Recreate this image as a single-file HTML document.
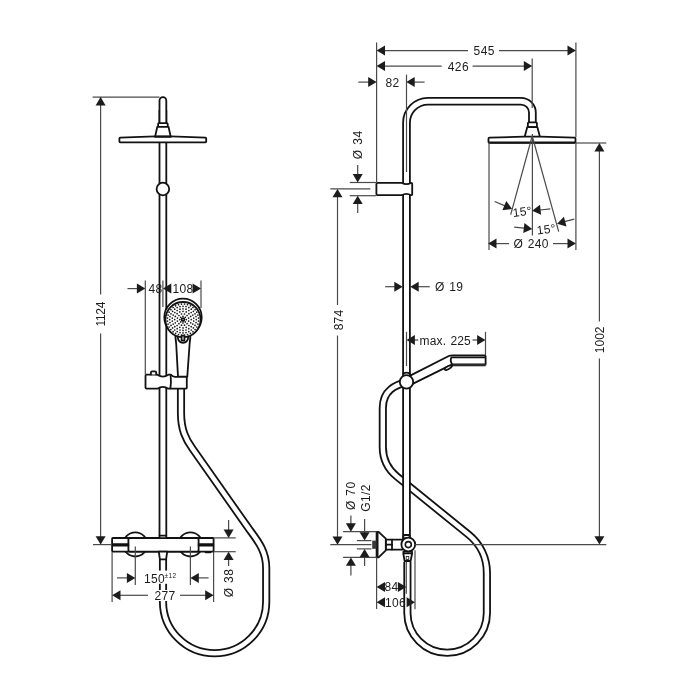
<!DOCTYPE html>
<html lang="en">
<head>
<meta charset="utf-8">
<title>Shower system dimensions</title>
<style>
html,body{margin:0;padding:0;background:#fff;}
body{width:700px;height:700px;overflow:hidden;}
svg{display:block;will-change:transform;filter:grayscale(1);}
text{font-family:"Liberation Sans",sans-serif;font-size:12px;fill:#1c1c1c;letter-spacing:0.4px;word-spacing:0.8px;}
.t{stroke:#4a4a4a;stroke-width:1.2;fill:none;}
.k{stroke:#121212;stroke-width:1.8;fill:#fff;stroke-linejoin:round;stroke-linecap:round;}
.kn{stroke:#121212;stroke-width:1.8;fill:none;stroke-linejoin:round;stroke-linecap:round;}
.a{fill:#1c1c1c;stroke:none;}
.w{fill:#fff;stroke:none;}
.tb{stroke:#121212;fill:none;stroke-linecap:butt;}
.tw{stroke:#fff;fill:none;stroke-linecap:butt;}
.d{fill:#1c1c1c;}
</style>
</head>
<body>
<svg width="700" height="700" viewBox="0 0 700 700">
<rect class="w" x="0" y="0" width="700" height="700"/>

<g id="front">
<path class="tb" stroke-width="8.10" d="M181,388 L181,413 C181,430 186,439.7 192.5,448.6 L247.9,527.4 C256.6,539.6 266.2,550 266.2,568 L266.2,601.7 A51.6,51.6 0 0 1 163,601.7 L163,559"/>
<path class="tw" stroke-width="4.50" d="M181,388 L181,413 C181,430 186,439.7 192.5,448.6 L247.9,527.4 C256.6,539.6 266.2,550 266.2,568 L266.2,601.7 A51.6,51.6 0 0 1 163,601.7 L163,559"/>
<path class="tb" stroke-width="8.60" d="M162.9,110 L162.9,536"/>
<path class="tw" stroke-width="5.00" d="M162.9,110 L162.9,536"/>
<path class="k" d="M159.5,124 L159.5,100.69999999999999 A3.4,3.6 0 0 1 166.3,100.69999999999999 L166.3,124 Z"/>
<rect class="k" x="158.1" y="123.2" width="9.6" height="3.6" rx="0.8"/>
<path class="k" d="M157.3,126.8 L168.5,126.8 L170.7,136.6 L155.1,136.6 Z"/>
<path class="k" d="M120.2,137.6 L154.9,136.4 L170.9,136.4 L205.4,137.6 Q206.2,137.7 206.2,138.5 L206.2,141.6 Q206.2,142.4 205.4,142.4 L120.2,142.4 Q119.4,142.4 119.4,141.6 L119.4,138.5 Q119.4,137.7 120.2,137.6 Z"/>
<line class="kn" x1="154.9" y1="136.8" x2="170.9" y2="136.8"/>
<circle class="k" cx="162.9" cy="189" r="6.3"/>
<g id="handshower">
<path class="k" d="M175.4,330 Q175.2,338 176.2,344 L178,376.6 L187.3,376.6 L189.6,344 Q190.6,338 190.4,330 Z"/>
<circle class="k" cx="183" cy="317.3" r="18.7"/>
<circle class="k" cx="183" cy="319.6" r="17.6"/>
<path class="kn" d="M177.6,336.3 Q178.2,342.6 183,342.8 Q187.8,342.6 188.4,336.3"/>
<path class="k" d="M181.6,335.6 L181.6,340.6 L184.4,340.6 L184.4,335.6 Z"/>
<circle class="k" cx="183" cy="319.6" r="1.4"/>
<circle class="d" cx="186.3" cy="319.6" r="0.85"/>
<circle class="d" cx="185.3" cy="321.9" r="0.85"/>
<circle class="d" cx="183.0" cy="322.9" r="0.85"/>
<circle class="d" cx="180.7" cy="321.9" r="0.85"/>
<circle class="d" cx="179.7" cy="319.6" r="0.85"/>
<circle class="d" cx="180.7" cy="317.3" r="0.85"/>
<circle class="d" cx="183.0" cy="316.3" r="0.85"/>
<circle class="d" cx="185.3" cy="317.3" r="0.85"/>
<circle class="d" cx="188.6" cy="321.1" r="0.85"/>
<circle class="d" cx="187.1" cy="323.7" r="0.85"/>
<circle class="d" cx="184.5" cy="325.2" r="0.85"/>
<circle class="d" cx="181.5" cy="325.2" r="0.85"/>
<circle class="d" cx="178.9" cy="323.7" r="0.85"/>
<circle class="d" cx="177.4" cy="321.1" r="0.85"/>
<circle class="d" cx="177.4" cy="318.1" r="0.85"/>
<circle class="d" cx="178.9" cy="315.5" r="0.85"/>
<circle class="d" cx="181.5" cy="314.0" r="0.85"/>
<circle class="d" cx="184.5" cy="314.0" r="0.85"/>
<circle class="d" cx="187.1" cy="315.5" r="0.85"/>
<circle class="d" cx="188.6" cy="318.1" r="0.85"/>
<circle class="d" cx="191.3" cy="319.6" r="0.85"/>
<circle class="d" cx="190.7" cy="322.8" r="0.85"/>
<circle class="d" cx="188.9" cy="325.5" r="0.85"/>
<circle class="d" cx="186.2" cy="327.3" r="0.85"/>
<circle class="d" cx="183.0" cy="327.9" r="0.85"/>
<circle class="d" cx="179.8" cy="327.3" r="0.85"/>
<circle class="d" cx="177.1" cy="325.5" r="0.85"/>
<circle class="d" cx="175.3" cy="322.8" r="0.85"/>
<circle class="d" cx="174.7" cy="319.6" r="0.85"/>
<circle class="d" cx="175.3" cy="316.4" r="0.85"/>
<circle class="d" cx="177.1" cy="313.7" r="0.85"/>
<circle class="d" cx="179.8" cy="311.9" r="0.85"/>
<circle class="d" cx="183.0" cy="311.3" r="0.85"/>
<circle class="d" cx="186.2" cy="311.9" r="0.85"/>
<circle class="d" cx="188.9" cy="313.7" r="0.85"/>
<circle class="d" cx="190.7" cy="316.4" r="0.85"/>
<circle class="d" cx="193.7" cy="321.1" r="0.85"/>
<circle class="d" cx="192.8" cy="324.1" r="0.85"/>
<circle class="d" cx="191.2" cy="326.7" r="0.85"/>
<circle class="d" cx="188.8" cy="328.7" r="0.85"/>
<circle class="d" cx="186.0" cy="330.0" r="0.85"/>
<circle class="d" cx="183.0" cy="330.4" r="0.85"/>
<circle class="d" cx="180.0" cy="330.0" r="0.85"/>
<circle class="d" cx="177.2" cy="328.7" r="0.85"/>
<circle class="d" cx="174.8" cy="326.7" r="0.85"/>
<circle class="d" cx="173.2" cy="324.1" r="0.85"/>
<circle class="d" cx="172.3" cy="321.1" r="0.85"/>
<circle class="d" cx="172.3" cy="318.1" r="0.85"/>
<circle class="d" cx="173.2" cy="315.1" r="0.85"/>
<circle class="d" cx="174.8" cy="312.5" r="0.85"/>
<circle class="d" cx="177.2" cy="310.5" r="0.85"/>
<circle class="d" cx="180.0" cy="309.2" r="0.85"/>
<circle class="d" cx="183.0" cy="308.8" r="0.85"/>
<circle class="d" cx="186.0" cy="309.2" r="0.85"/>
<circle class="d" cx="188.8" cy="310.5" r="0.85"/>
<circle class="d" cx="191.2" cy="312.5" r="0.85"/>
<circle class="d" cx="192.8" cy="315.1" r="0.85"/>
<circle class="d" cx="193.7" cy="318.1" r="0.85"/>
<circle class="d" cx="196.3" cy="319.6" r="0.85"/>
<circle class="d" cx="196.0" cy="322.6" r="0.85"/>
<circle class="d" cx="195.0" cy="325.4" r="0.85"/>
<circle class="d" cx="193.4" cy="327.9" r="0.85"/>
<circle class="d" cx="191.3" cy="330.0" r="0.85"/>
<circle class="d" cx="188.8" cy="331.6" r="0.85"/>
<circle class="d" cx="186.0" cy="332.6" r="0.85"/>
<circle class="d" cx="183.0" cy="332.9" r="0.85"/>
<circle class="d" cx="180.0" cy="332.6" r="0.85"/>
<circle class="d" cx="177.2" cy="331.6" r="0.85"/>
<circle class="d" cx="174.7" cy="330.0" r="0.85"/>
<circle class="d" cx="172.6" cy="327.9" r="0.85"/>
<circle class="d" cx="171.0" cy="325.4" r="0.85"/>
<circle class="d" cx="170.0" cy="322.6" r="0.85"/>
<circle class="d" cx="169.7" cy="319.6" r="0.85"/>
<circle class="d" cx="170.0" cy="316.6" r="0.85"/>
<circle class="d" cx="171.0" cy="313.8" r="0.85"/>
<circle class="d" cx="172.6" cy="311.3" r="0.85"/>
<circle class="d" cx="174.7" cy="309.2" r="0.85"/>
<circle class="d" cx="177.2" cy="307.6" r="0.85"/>
<circle class="d" cx="180.0" cy="306.6" r="0.85"/>
<circle class="d" cx="183.0" cy="306.3" r="0.85"/>
<circle class="d" cx="186.0" cy="306.6" r="0.85"/>
<circle class="d" cx="188.8" cy="307.6" r="0.85"/>
<circle class="d" cx="191.3" cy="309.2" r="0.85"/>
<circle class="d" cx="193.4" cy="311.3" r="0.85"/>
<circle class="d" cx="195.0" cy="313.8" r="0.85"/>
<circle class="d" cx="196.0" cy="316.6" r="0.85"/>
<circle class="d" cx="198.5" cy="321.1" r="0.85"/>
<circle class="d" cx="197.9" cy="324.1" r="0.85"/>
<circle class="d" cx="196.8" cy="327.0" r="0.85"/>
<circle class="d" cx="195.1" cy="329.5" r="0.85"/>
<circle class="d" cx="192.9" cy="331.7" r="0.85"/>
<circle class="d" cx="190.4" cy="333.4" r="0.85"/>
<circle class="d" cx="187.5" cy="334.5" r="0.85"/>
<circle class="d" cx="184.5" cy="335.1" r="0.85"/>
<circle class="d" cx="181.5" cy="335.1" r="0.85"/>
<circle class="d" cx="178.5" cy="334.5" r="0.85"/>
<circle class="d" cx="175.6" cy="333.4" r="0.85"/>
<circle class="d" cx="173.1" cy="331.7" r="0.85"/>
<circle class="d" cx="170.9" cy="329.5" r="0.85"/>
<circle class="d" cx="169.2" cy="327.0" r="0.85"/>
<circle class="d" cx="168.1" cy="324.1" r="0.85"/>
<circle class="d" cx="167.5" cy="321.1" r="0.85"/>
<circle class="d" cx="167.5" cy="318.1" r="0.85"/>
<circle class="d" cx="168.1" cy="315.1" r="0.85"/>
<circle class="d" cx="169.2" cy="312.2" r="0.85"/>
<circle class="d" cx="170.9" cy="309.7" r="0.85"/>
<circle class="d" cx="173.1" cy="307.5" r="0.85"/>
<circle class="d" cx="175.6" cy="305.8" r="0.85"/>
<circle class="d" cx="178.5" cy="304.7" r="0.85"/>
<circle class="d" cx="181.5" cy="304.1" r="0.85"/>
<circle class="d" cx="184.5" cy="304.1" r="0.85"/>
<circle class="d" cx="187.5" cy="304.7" r="0.85"/>
<circle class="d" cx="190.4" cy="305.8" r="0.85"/>
<circle class="d" cx="192.9" cy="307.5" r="0.85"/>
<circle class="d" cx="195.1" cy="309.7" r="0.85"/>
<circle class="d" cx="196.8" cy="312.2" r="0.85"/>
<circle class="d" cx="197.9" cy="315.1" r="0.85"/>
<circle class="d" cx="198.5" cy="318.1" r="0.85"/>
</g>
<path class="k" d="M146.6,374.7 L157.4,374.7 Q162.9,378.6 168.4,374.7 L171,374.7 Q172.6,376.8 175,376.8 L186,376.8 Q186.8,376.8 186.8,377.6 L186.8,387.8 Q186.8,388.7 186,388.7 L168.4,388.7 Q162.9,384.9 157.4,388.7 L146.6,388.7 Q145.5,388.7 145.5,387.6 L145.5,375.8 Q145.5,374.7 146.6,374.7 Z"/>
<path class="kn" d="M170.6,375 Q171.4,381.6 170.4,388.4"/>
<path class="k" d="M150.9,374.6 L150.9,372.6 Q150.9,371.4 152.1,371.4 L155,371.4 Q156.2,371.4 156.2,372.6 L156.2,374.6"/>
<circle class="k" cx="135.3" cy="544.4" r="12.1"/>
<circle class="k" cx="190.4" cy="544.4" r="12.1"/>
<rect class="k" x="112.1" y="538.0" width="101.5" height="13.6" rx="0.8"/>
<rect class="k" x="128.4" y="538.0" width="70.2" height="13.6" rx="1.6"/>
<line class="kn" x1="112.6" y1="544.1" x2="128.4" y2="544.1"/>
<line class="kn" x1="112.6" y1="545.6" x2="128.4" y2="545.6"/>
<line class="kn" x1="198.6" y1="544.1" x2="213.2" y2="544.1"/>
<line class="kn" x1="198.6" y1="545.6" x2="213.2" y2="545.6"/>
<line class="kn" x1="205.5" y1="552.3" x2="210.5" y2="552.3"/>
<rect class="k" x="159.5" y="535.7" width="6.8" height="2.4" rx="0.4"/>
<path class="k" d="M158.8,551.6 L167.2,551.6 L166.1,559.3 L159.9,559.3 Z"/>
<line class="t" x1="92.6" y1="97.1" x2="159.5" y2="97.1"/>
<line class="t" x1="100.6" y1="97.1" x2="100.6" y2="294.5"/>
<line class="t" x1="100.6" y1="333.5" x2="100.6" y2="544.6"/>
<polygon class="a" points="100.6,97.1 105.6,105.5 95.6,105.5"/>
<polygon class="a" points="100.6,544.6 95.6,536.2 105.6,536.2"/>
<line class="t" x1="93.0" y1="544.6" x2="112.0" y2="544.6"/>
<text x="104.8" y="314.2" text-anchor="middle" style="font-size:12px;letter-spacing:-0.3px" transform="rotate(-90 104.8 314.2)">1124</text>
<line class="t" x1="145.3" y1="280.5" x2="145.3" y2="374.5"/>
<line class="t" x1="162.9" y1="280.5" x2="162.9" y2="307.0"/>
<line class="t" x1="201.0" y1="280.5" x2="201.0" y2="308.0"/>
<line class="t" x1="127.5" y1="288.6" x2="138.0" y2="288.6"/>
<polygon class="a" points="145.3,288.6 136.9,293.6 136.9,283.6"/>
<polygon class="a" points="162.9,288.6 171.3,283.6 171.3,293.6"/>
<polygon class="a" points="201.0,288.6 192.6,293.6 192.6,283.6"/>
<text x="155.6" y="293.0" text-anchor="middle">48</text>
<text x="183.0" y="293.0" text-anchor="middle">108</text>
<line class="t" x1="135.3" y1="546.5" x2="135.3" y2="585.0"/>
<line class="t" x1="190.4" y1="546.5" x2="190.4" y2="585.0"/>
<line class="t" x1="112.1" y1="552.0" x2="112.1" y2="602.0"/>
<line class="t" x1="213.6" y1="552.0" x2="213.6" y2="602.0"/>
<line class="t" x1="117.0" y1="577.9" x2="128.0" y2="577.9"/>
<line class="t" x1="198.0" y1="577.9" x2="208.6" y2="577.9"/>
<polygon class="a" points="135.3,577.9 126.9,582.9 126.9,572.9"/>
<polygon class="a" points="190.4,577.9 198.8,572.9 198.8,582.9"/>
<rect class="w" x="144.0" y="570.6" width="32.0" height="13.2"/>
<text x="154.5" y="582.6" text-anchor="middle">150</text>
<text x="164.6" y="577.6" text-anchor="start" style="font-size:6.5px">±12</text>
<rect class="w" x="153.0" y="590.0" width="24.0" height="11.0"/>
<line class="t" x1="120.0" y1="595.3" x2="148.0" y2="595.3"/>
<line class="t" x1="180.0" y1="595.3" x2="206.0" y2="595.3"/>
<polygon class="a" points="112.1,595.3 120.5,590.3 120.5,600.3"/>
<polygon class="a" points="213.6,595.3 205.2,600.3 205.2,590.3"/>
<text x="165.0" y="599.6" text-anchor="middle">277</text>
<line class="t" x1="213.6" y1="537.9" x2="235.7" y2="537.9"/>
<line class="t" x1="213.6" y1="551.7" x2="235.7" y2="551.7"/>
<line class="t" x1="228.6" y1="520.0" x2="228.6" y2="530.0"/>
<line class="t" x1="228.6" y1="560.0" x2="228.6" y2="566.0"/>
<polygon class="a" points="228.6,537.9 223.6,529.5 233.6,529.5"/>
<polygon class="a" points="228.6,551.7 233.6,560.1 223.6,560.1"/>
<text x="232.9" y="583.0" text-anchor="middle" transform="rotate(-90 232.9 583.0)">Ø 38</text>
</g>
<g id="side">
<path class="tb" stroke-width="8.10" d="M407,382 C396,384.8 382.8,390 382.8,408 L382.8,447 A37.87,37.87 0 0 0 396.82,476.42 L468.7,534.71 A49.16,49.16 0 0 1 486.9,572.9 L486.9,613 A39.75,39.75 0 0 1 407.4,613 L407.4,562"/>
<path class="tw" stroke-width="4.50" d="M407,382 C396,384.8 382.8,390 382.8,408 L382.8,447 A37.87,37.87 0 0 0 396.82,476.42 L468.7,534.71 A49.16,49.16 0 0 1 486.9,572.9 L486.9,613 A39.75,39.75 0 0 1 407.4,613 L407.4,562"/>
<path class="tb" stroke-width="8.60" d="M406.5,540 L406.5,122.7 A21.5,21.5 0 0 1 428.0,101.2 L520.9,101.2 A11.5,11.5 0 0 1 532.4,112.7 L532.4,123"/>
<path class="tw" stroke-width="5.00" d="M406.5,540 L406.5,122.7 A21.5,21.5 0 0 1 428.0,101.2 L520.9,101.2 A11.5,11.5 0 0 1 532.4,112.7 L532.4,123"/>
<line class="t" x1="406.5" y1="74.6" x2="406.5" y2="172.0"/>
<line class="t" x1="532.2" y1="58.6" x2="532.2" y2="108.0"/>
<rect class="k" x="527.9" y="122.4" width="9.0" height="4.8" rx="0.8"/>
<path class="k" d="M527.2,127.2 L537.4,127.2 L539.9,136.8 L524.7,136.8 Z"/>
<path class="k" d="M489.4,137.6 L524,136.7 L540.4,136.7 L574.6,137.6 Q575.5,137.7 575.5,138.6 L575.5,141.9 Q575.5,142.8 574.6,142.8 L489.4,142.8 Q488.5,142.8 488.5,141.9 L488.5,138.6 Q488.5,137.7 489.4,137.6 Z"/>
<line class="kn" x1="489.4" y1="142.5" x2="574.6" y2="142.5"/>
<path class="k" d="M377.5,182.8 L401.6,182.8 Q406.4,185.6 411.2,182.8 Q412.2,182.8 412.2,183.8 L412.2,194.2 Q412.2,195.2 411.2,195.2 Q406.4,192.4 401.6,195.2 L377.5,195.2 Q376.4,195.2 376.4,194.1 L376.4,183.9 Q376.4,182.8 377.5,182.8 Z"/>
<path class="k" d="M407.2,377.1 L448.8,356 Q450.4,355.4 452.4,355.4 L484.6,355.4 Q485.6,355.4 485.6,356.4 L485.6,364.6 L452.6,364.6 L446,367.4 L407.6,386.4 Z"/>
<path class="k" d="M452.6,364.8 Q447,365.6 444.6,368.6 Q444.4,370.4 446.6,370 Q451.4,368.6 452.6,364.8 Z"/>
<path class="kn" d="M452.4,364.6 Q449.6,361 451.4,357.4 L484.8,357.4"/>
<rect x="452.6" y="363.6" width="33" height="2.7" fill="#2a2a2a"/>
<circle class="k" cx="406.5" cy="381.9" r="6.7"/>
<path class="kn" d="M403.4,375.2 L403.4,373.6 Q406.5,371.8 409.8,373.6 L409.8,375.2"/>
<rect class="k" x="403.4" y="535.0" width="6.2" height="3.4" rx="0.5"/>
<path class="k" d="M403.4,551.6 L412,551.6 L412,554 L410.6,561 L404.6,561 L403.4,554 Z"/>
<rect x="406.2" y="556.6" width="2.6" height="3" fill="#fff" stroke="#161616" stroke-width="0.8"/>
<line class="kn" x1="403.6" y1="553.4" x2="411.8" y2="553.4"/>
<path class="k" d="M376.6,531.8 L378.6,531.8 L385.8,538.7 L385.8,550.3 L378.6,557.4 L376.6,557.4 Z"/>
<rect x="376.1" y="531.4" width="2.4" height="26.4" fill="#161616"/>
<rect x="372.2" y="540.6" width="4.2" height="8.2" fill="#3a3a3a"/>
<rect class="k" x="386.0" y="539.6" width="16.6" height="10.0" rx="0.3"/>
<line class="kn" x1="392.0" y1="539.6" x2="392.0" y2="549.6"/>
<line class="kn" x1="386.0" y1="544.7" x2="392.0" y2="544.7"/>
<circle class="k" cx="408.3" cy="544.6" r="6.9"/>
<circle cx="408.3" cy="544.6" r="3" fill="#fff" stroke="#161616" stroke-width="1.6"/>
<line class="t" x1="376.6" y1="42.6" x2="376.6" y2="182.0"/>
<line class="t" x1="575.9" y1="42.6" x2="575.9" y2="137.0"/>
<line class="t" x1="575.9" y1="142.6" x2="575.9" y2="250.0"/>
<line class="t" x1="489.0" y1="142.6" x2="489.0" y2="250.0"/>
<line class="t" x1="532.4" y1="134.0" x2="532.4" y2="235.6"/>
<line class="t" x1="384.0" y1="50.6" x2="468.0" y2="50.6"/>
<line class="t" x1="499.0" y1="50.6" x2="568.0" y2="50.6"/>
<polygon class="a" points="376.6,50.6 385.0,45.6 385.0,55.6"/>
<polygon class="a" points="575.9,50.6 567.5,55.6 567.5,45.6"/>
<text x="484.2" y="55.2" text-anchor="middle">545</text>
<line class="t" x1="384.0" y1="66.1" x2="441.7" y2="66.1"/>
<line class="t" x1="472.6" y1="66.1" x2="525.0" y2="66.1"/>
<polygon class="a" points="376.6,66.1 385.0,61.1 385.0,71.1"/>
<polygon class="a" points="532.2,66.1 523.8,71.1 523.8,61.1"/>
<text x="458.4" y="71.1" text-anchor="middle">426</text>
<line class="t" x1="358.3" y1="82.1" x2="369.0" y2="82.1"/>
<line class="t" x1="414.0" y1="82.1" x2="424.6" y2="82.1"/>
<polygon class="a" points="376.6,82.1 368.2,87.1 368.2,77.1"/>
<polygon class="a" points="406.3,82.1 414.7,77.1 414.7,87.1"/>
<text x="392.5" y="86.9" text-anchor="middle">82</text>
<line class="t" x1="349.7" y1="182.5" x2="376.0" y2="182.5"/>
<line class="t" x1="349.7" y1="195.7" x2="376.0" y2="195.7"/>
<line class="t" x1="357.7" y1="164.9" x2="357.7" y2="175.0"/>
<line class="t" x1="357.7" y1="204.0" x2="357.7" y2="212.9"/>
<polygon class="a" points="357.7,182.5 352.7,174.1 362.7,174.1"/>
<polygon class="a" points="357.7,195.7 362.7,204.1 352.7,204.1"/>
<text x="362.4" y="144.7" text-anchor="middle" style="font-size:12px;letter-spacing:0.6px" transform="rotate(-90 362.4 144.7)">Ø 34</text>
<line class="t" x1="330.3" y1="188.9" x2="370.3" y2="188.9"/>
<line class="t" x1="337.5" y1="196.0" x2="337.5" y2="305.0"/>
<line class="t" x1="337.5" y1="335.5" x2="337.5" y2="537.0"/>
<polygon class="a" points="337.5,188.9 342.5,197.3 332.5,197.3"/>
<polygon class="a" points="337.5,544.8 332.5,536.4 342.5,536.4"/>
<line class="t" x1="330.3" y1="544.6" x2="371.4" y2="544.6"/>
<text x="342.6" y="320.0" text-anchor="middle" style="font-size:12px;letter-spacing:0.2px" transform="rotate(-90 342.6 320.0)">874</text>
<line class="t" x1="385.1" y1="286.7" x2="395.0" y2="286.7"/>
<line class="t" x1="418.0" y1="286.7" x2="429.7" y2="286.7"/>
<polygon class="a" points="402.7,286.7 394.3,291.7 394.3,281.7"/>
<polygon class="a" points="410.3,286.7 418.7,281.7 418.7,291.7"/>
<text x="449.2" y="291.0" text-anchor="middle">Ø 19</text>
<line class="t" x1="532.2" y1="136.0" x2="510.7" y2="214.6"/>
<line class="t" x1="532.2" y1="136.0" x2="558.7" y2="231.7"/>
<line class="t" x1="494.7" y1="201.5" x2="505.0" y2="205.9"/>
<polygon class="a" points="512.1,208.9 502.4,210.2 506.3,201.0"/>
<line class="t" x1="540.0" y1="210.0" x2="550.3" y2="208.9"/>
<polygon class="a" points="532.2,210.7 540.0,204.8 541.1,214.8"/>
<text x="522.8" y="215.8" text-anchor="middle" transform="rotate(-7 522.8 215.8)">15°</text>
<line class="t" x1="514.2" y1="227.1" x2="524.2" y2="228.2"/>
<polygon class="a" points="532.2,229.0 523.3,233.1 524.4,223.1"/>
<line class="t" x1="564.5" y1="221.6" x2="574.3" y2="219.1"/>
<polygon class="a" points="557.1,223.7 563.9,216.7 566.5,226.4"/>
<text x="546.8" y="233.4" text-anchor="middle" transform="rotate(-7 546.8 233.4)">15°</text>
<line class="t" x1="496.0" y1="243.6" x2="509.0" y2="243.6"/>
<line class="t" x1="553.0" y1="243.6" x2="568.0" y2="243.6"/>
<polygon class="a" points="488.1,243.6 496.5,238.6 496.5,248.6"/>
<polygon class="a" points="575.9,243.6 567.5,248.6 567.5,238.6"/>
<text x="531.2" y="247.9" text-anchor="middle">Ø 240</text>
<line class="t" x1="576.0" y1="143.0" x2="606.3" y2="143.0"/>
<line class="t" x1="599.4" y1="150.0" x2="599.4" y2="321.5"/>
<line class="t" x1="599.4" y1="358.5" x2="599.4" y2="537.0"/>
<polygon class="a" points="599.4,143.0 604.4,151.4 594.4,151.4"/>
<polygon class="a" points="599.4,544.6 594.4,536.2 604.4,536.2"/>
<line class="t" x1="415.2" y1="544.6" x2="606.3" y2="544.6"/>
<text x="604.2" y="339.8" text-anchor="middle" style="font-size:12px;letter-spacing:0px" transform="rotate(-90 604.2 339.8)">1002</text>
<line class="t" x1="406.5" y1="331.8" x2="406.5" y2="366.0"/>
<line class="t" x1="485.5" y1="331.8" x2="485.5" y2="355.4"/>
<line class="t" x1="414.0" y1="340.0" x2="418.3" y2="340.0"/>
<line class="t" x1="472.5" y1="340.0" x2="478.0" y2="340.0"/>
<polygon class="a" points="406.5,340.0 414.9,335.0 414.9,345.0"/>
<polygon class="a" points="485.5,340.0 477.1,345.0 477.1,335.0"/>
<text x="445.2" y="344.5" text-anchor="middle" style="font-size:12px;letter-spacing:0.15px">max. 225</text>
<line class="t" x1="343.1" y1="531.7" x2="376.6" y2="531.7"/>
<line class="t" x1="343.1" y1="557.4" x2="376.6" y2="557.4"/>
<line class="t" x1="356.9" y1="540.6" x2="371.4" y2="540.6"/>
<line class="t" x1="356.9" y1="548.9" x2="371.4" y2="548.9"/>
<line class="t" x1="350.9" y1="515.4" x2="350.9" y2="524.0"/>
<line class="t" x1="350.9" y1="565.0" x2="350.9" y2="575.4"/>
<polygon class="a" points="350.9,531.7 345.9,523.3 355.9,523.3"/>
<polygon class="a" points="350.9,557.4 355.9,565.8 345.9,565.8"/>
<line class="t" x1="364.6" y1="518.9" x2="364.6" y2="533.0"/>
<line class="t" x1="364.6" y1="556.0" x2="364.6" y2="566.0"/>
<polygon class="a" points="364.6,540.6 359.6,532.2 369.6,532.2"/>
<polygon class="a" points="364.6,548.9 369.6,557.3 359.6,557.3"/>
<text x="355.2" y="495.7" text-anchor="middle" transform="rotate(-90 355.2 495.7)">Ø 70</text>
<text x="369.7" y="498.0" text-anchor="middle" transform="rotate(-90 369.7 498.0)">G1/2</text>
<line class="t" x1="376.6" y1="557.4" x2="376.6" y2="609.0"/>
<line class="t" x1="406.3" y1="562.0" x2="406.3" y2="593.7"/>
<line class="t" x1="415.0" y1="550.3" x2="415.0" y2="609.3"/>
<polygon class="a" points="376.6,586.9 385.0,581.9 385.0,591.9"/>
<polygon class="a" points="406.3,586.9 397.9,591.9 397.9,581.9"/>
<text x="391.6" y="591.2" text-anchor="middle">84</text>
<polygon class="a" points="376.6,602.2 385.0,597.2 385.0,607.2"/>
<polygon class="a" points="415.0,602.2 406.6,607.2 406.6,597.2"/>
<text x="395.5" y="606.5" text-anchor="middle">106</text>
</g>
</svg>
</body>
</html>
